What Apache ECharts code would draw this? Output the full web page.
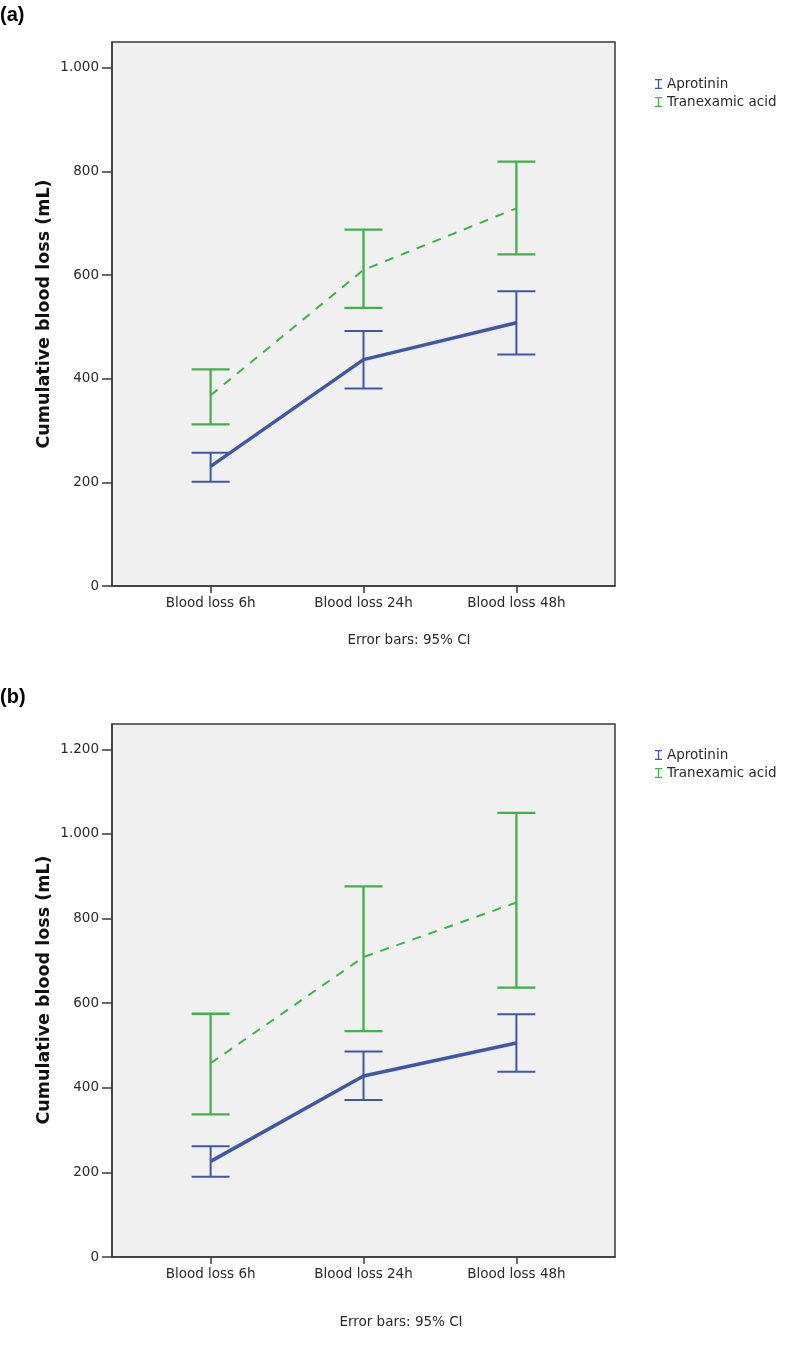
<!DOCTYPE html>
<html>
<head>
<meta charset="utf-8">
<script src="https://cdn.jsdelivr.net/npm/echarts@6/dist/echarts.min.js"></script>
<style>
html,body{margin:0;padding:0;background:#fff;}
#chart{width:800px;height:1347px;}
</style>
</head>
<body>
<div id="chart"></div>
<script>
// ---- data ----
const categories = ['Blood loss 6h', 'Blood loss 24h', 'Blood loss 48h'];
const yTicksA = [0, 200, 400, 600, 800, 1000];
const yTicksB = [0, 200, 400, 600, 800, 1000, 1200];
const seriesNames = ['Aprotinin', 'Tranexamic acid'];
const yTitle = 'Cumulative blood loss (mL)';
const note = 'Error bars: 95% CI';

// Panel (a)
const aproMeanA = [231, 437, 508];
const aproLowA  = [201, 381, 447];
const aproHighA = [257, 492, 569];
const tranMeanA = [368, 610, 729];
const tranLowA  = [312, 537, 640];
const tranHighA = [418, 688, 819];

// Panel (b)
const aproMeanB = [226, 428, 506];
const aproLowB  = [190, 371, 438];
const aproHighB = [262, 486, 574];
const tranMeanB = [458, 709, 838];
const tranLowB  = [337, 534, 637];
const tranHighB = [575, 876, 1050];

// ---- styling ----
const BLUE = '#4256a6';
const GREEN = '#43b04e';
const FONT = 'DejaVu Sans';
const TXT = '#2a2a2a';
const AX = '#3a3a3a';

function fmtNum(v) {
  return v >= 1000 ? String(v).replace(/\B(?=(\d{3})+(?!\d))/g, '.') : String(v);
}
function pts(arr) { return arr.map((v, i) => [i, v]); }
function bars(lo, hi) { return lo.map((v, i) => [i, v, hi[i]]); }

function errRender(color, lw) {
  return function (params, api) {
    const x = api.value(0);
    const pL = api.coord([x, api.value(1)]);
    const pH = api.coord([x, api.value(2)]);
    const w = 19;
    const st = { stroke: color, lineWidth: lw };
    return {
      type: 'group',
      children: [
        { type: 'line', shape: { x1: pL[0], y1: pL[1], x2: pH[0], y2: pH[1] }, style: st },
        { type: 'line', shape: { x1: pH[0] - w, y1: pH[1], x2: pH[0] + w, y2: pH[1] }, style: st },
        { type: 'line', shape: { x1: pL[0] - w, y1: pL[1], x2: pL[0] + w, y2: pL[1] }, style: st }
      ]
    };
  };
}

function makeGrid(top, height) {
  return {
    left: 112, top: top, width: 503, height: height,
    show: true, backgroundColor: '#f0f0f0', borderColor: AX, borderWidth: 1.5
  };
}
function makeX(gi) {
  return {
    type: 'value', gridIndex: gi, min: -0.645, max: 2.645,
    splitLine: { show: false },
    axisLine: { show: true, onZero: false, lineStyle: { color: AX, width: 1.5 } },
    axisTick: { show: true, customValues: [0, 1, 2], length: 7, lineStyle: { color: AX, width: 1.5 } },
    axisLabel: {
      customValues: [0, 1, 2], formatter: v => categories[Math.round(v)],
      color: TXT, fontFamily: FONT, fontSize: 13.5, margin: 10
    }
  };
}
function makeY(gi, max, ticks) {
  return {
    type: 'value', gridIndex: gi, min: 0, max: max,
    splitLine: { show: false },
    axisLine: { show: true, onZero: false, lineStyle: { color: AX, width: 1.5 } },
    axisTick: { show: true, customValues: ticks, length: 10, lineStyle: { color: AX, width: 1.5 } },
    axisLabel: {
      customValues: ticks, formatter: fmtNum,
      color: TXT, fontFamily: FONT, fontSize: 13.5, margin: 13
    }
  };
}
function makeSeries(gi, aMean, aLo, aHi, tMean, tLo, tHi) {
  return [
    { type: 'line', name: 'Aprotinin mean', xAxisIndex: gi, yAxisIndex: gi, data: pts(aMean),
      symbol: 'none', lineStyle: { color: BLUE, width: 3.5 }, z: 3 },
    { type: 'line', name: 'Tranexamic acid mean', xAxisIndex: gi, yAxisIndex: gi, data: pts(tMean),
      symbol: 'none', lineStyle: { color: GREEN, width: 2, type: [9, 8] }, z: 3 },
    { type: 'custom', name: 'Aprotinin', xAxisIndex: gi, yAxisIndex: gi, data: bars(aLo, aHi),
      encode: { x: 0, y: [1, 2] }, itemStyle: { color: BLUE }, renderItem: errRender(BLUE, 2), z: 4 },
    { type: 'custom', name: 'Tranexamic acid', xAxisIndex: gi, yAxisIndex: gi, data: bars(tLo, tHi),
      encode: { x: 0, y: [1, 2] }, itemStyle: { color: GREEN }, renderItem: errRender(GREEN, 2.3), z: 4 }
  ];
}
const ICON = 'path://M0 0H10V1.8H5.9V12.2H10V14H0V12.2H4.1V1.8H0Z';
function makeLegend(top) {
  return {
    data: seriesNames, orient: 'vertical', left: 650, top: top,
    icon: ICON, itemWidth: 7, itemHeight: 11, itemGap: 4,
    textStyle: { fontFamily: FONT, fontSize: 13.5, color: TXT },
    selectedMode: false
  };
}
function yTitleText(cy) {
  return { type: 'text', x: 44, y: cy, rotation: Math.PI / 2,
    style: { text: yTitle, font: 'bold 17.5px "DejaVu Sans"', fill: '#111', textAlign: 'center', textVerticalAlign: 'middle' } };
}

const chart = echarts.init(document.getElementById('chart'), null, { renderer: 'canvas' });
chart.setOption({
  animation: false,
  backgroundColor: '#ffffff',
  grid: [makeGrid(42, 544), makeGrid(724, 533)],
  xAxis: [makeX(0), makeX(1)],
  yAxis: [makeY(0, 1050, yTicksA), makeY(1, 1260, yTicksB)],
  legend: [makeLegend(72), makeLegend(743)],
  series: [].concat(
    makeSeries(0, aproMeanA, aproLowA, aproHighA, tranMeanA, tranLowA, tranHighA),
    makeSeries(1, aproMeanB, aproLowB, aproHighB, tranMeanB, tranLowB, tranHighB)
  ),
  graphic: [
    { type: 'text', left: 0, top: 5, style: { text: '(a)', font: 'bold 20px "Liberation Sans"', fill: '#000' } },
    { type: 'text', left: 0, top: 687, style: { text: '(b)', font: 'bold 20px "Liberation Sans"', fill: '#000' } },
    yTitleText(314),
    yTitleText(990),
    { type: 'text', x: 409, y: 640, style: { text: note, font: '13.5px "DejaVu Sans"', fill: TXT, textAlign: 'center', textVerticalAlign: 'middle' } },
    { type: 'text', x: 401, y: 1322, style: { text: note, font: '13.5px "DejaVu Sans"', fill: TXT, textAlign: 'center', textVerticalAlign: 'middle' } }
  ]
});
</script>
</body>
</html>
